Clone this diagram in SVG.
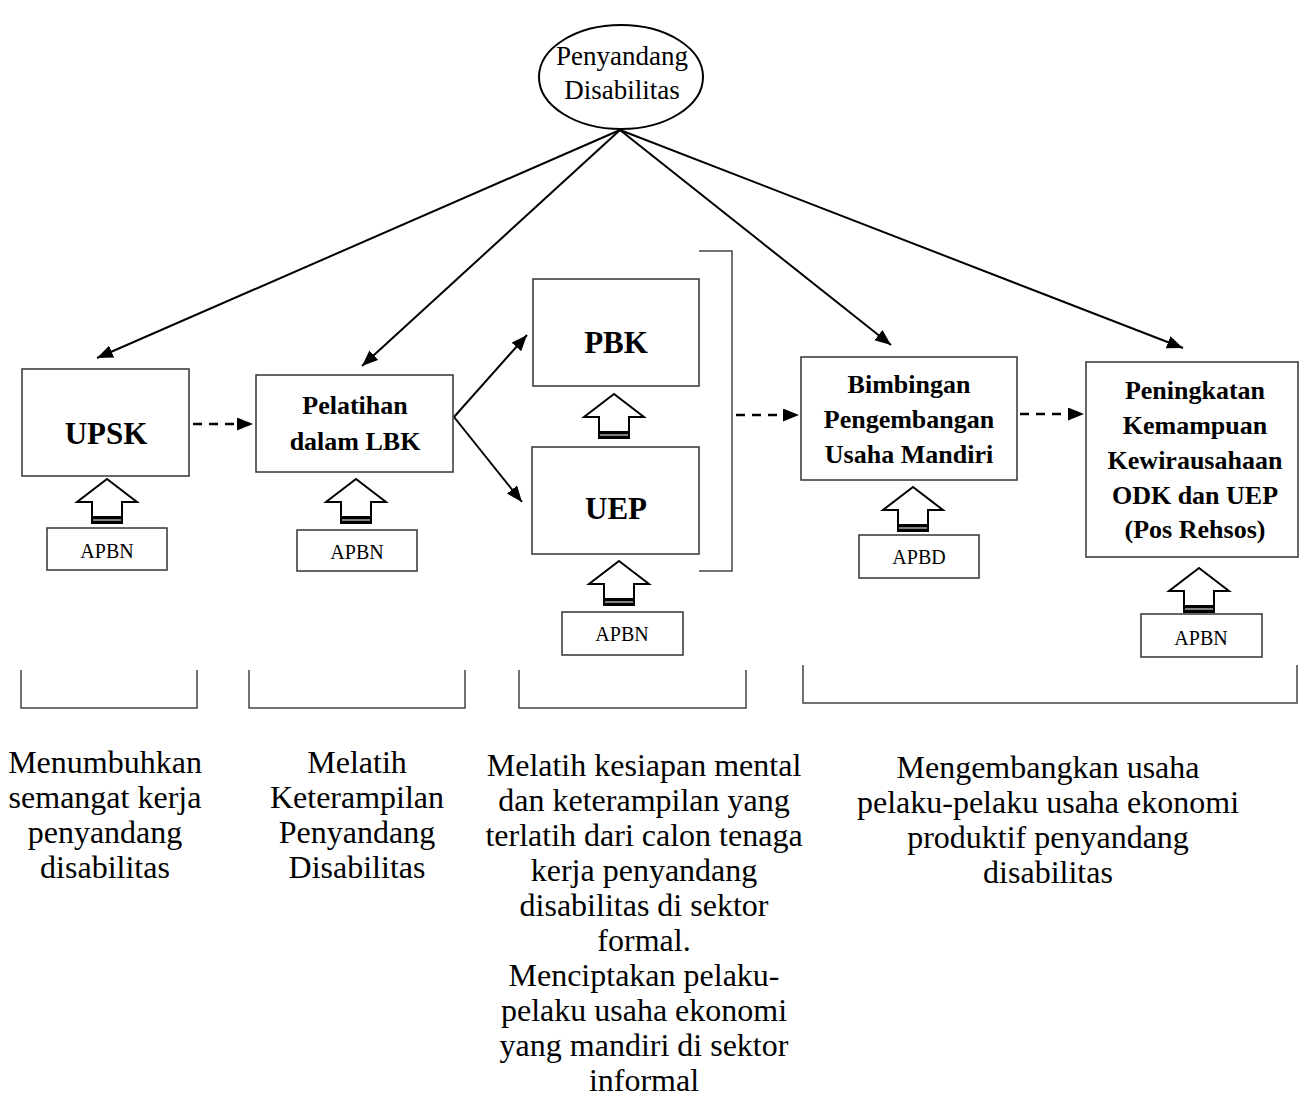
<svg xmlns="http://www.w3.org/2000/svg" width="1309" height="1111" viewBox="0 0 1309 1111">
<defs>
<marker id="ah" markerUnits="userSpaceOnUse" markerWidth="18" markerHeight="14" refX="16" refY="6.5" orient="auto">
<path d="M0,0 L16,6.5 L0,13 z" fill="#000"/>
</marker>
<g id="up">
<polygon points="0,0 30,23 15,23 15,44 -15,44 -15,23 -30,23" fill="#fff" stroke="#000" stroke-width="2" stroke-linejoin="miter"/>
<rect x="-15" y="37" width="30" height="7" fill="#000"/>
<line x1="-14" y1="41" x2="14" y2="41" stroke="#fff" stroke-width="1"/>
</g>
</defs>
<style>
.box{fill:#fff;stroke:#333;stroke-width:1.5}
.ln{fill:none;stroke:#000;stroke-width:2}
.dash{fill:none;stroke:#000;stroke-width:2.5;stroke-dasharray:9,7}
.br{fill:none;stroke:#444;stroke-width:1.5}
.t{font-family:"Liberation Serif","Times New Roman",Times,serif;fill:#000;text-anchor:middle}
.b{font-weight:bold}
.s20{font-size:20px}
.s26{font-size:26px}
.s27{font-size:27px}
.s31{font-size:31px}
.s32{font-size:32px}
</style>
<rect width="1309" height="1111" fill="#fff"/>

<g id="connectors">
<line class="ln" x1="620" y1="130" x2="97" y2="358" marker-end="url(#ah)"/>
<line class="ln" x1="620" y1="130" x2="362" y2="366" marker-end="url(#ah)"/>
<line class="ln" x1="620" y1="130" x2="891" y2="345" marker-end="url(#ah)"/>
<line class="ln" x1="620" y1="130" x2="1183" y2="348" marker-end="url(#ah)"/>
<line class="ln" x1="454" y1="417" x2="527" y2="335" marker-end="url(#ah)"/>
<line class="ln" x1="454" y1="417" x2="522" y2="502" marker-end="url(#ah)"/>
<line class="dash" x1="193" y1="424" x2="253" y2="424" marker-end="url(#ah)"/>
<line class="dash" x1="736" y1="415" x2="799" y2="415" marker-end="url(#ah)"/>
<line class="dash" x1="1020" y1="414" x2="1084" y2="414" marker-end="url(#ah)"/>
<polyline class="br" points="699,251 732,251 732,571 699,571"/>
</g>

<g id="node-penyandang">
<ellipse cx="621" cy="77" rx="82" ry="52" fill="#fff" stroke="#000" stroke-width="2"/>
<text class="t s27" x="622" y="65">Penyandang</text>
<text class="t s27" x="622" y="99">Disabilitas</text>
</g>

<g id="node-upsk">
<rect class="box" x="22" y="369" width="167" height="107"/>
<text class="t b s31" x="106" y="444">UPSK</text>
<use href="#up" x="107" y="479"/>
<rect class="box" x="47" y="528" width="120" height="42"/>
<text class="t s20" x="107" y="558">APBN</text>
</g>

<g id="node-pelatihan">
<rect class="box" x="256" y="375" width="197" height="97"/>
<text class="t b s26" x="355" y="414">Pelatihan</text>
<text class="t b s26" x="355" y="450">dalam LBK</text>
<use href="#up" x="356" y="479"/>
<rect class="box" x="297" y="530" width="120" height="41"/>
<text class="t s20" x="357" y="559">APBN</text>
</g>

<g id="node-pbk">
<rect class="box" x="533" y="279" width="166" height="107"/>
<text class="t b s31" x="616" y="353">PBK</text>
<use href="#up" x="614" y="394"/>
</g>

<g id="node-uep">
<rect class="box" x="532" y="447" width="167" height="107"/>
<text class="t b s31" x="616" y="519">UEP</text>
<use href="#up" x="619" y="561"/>
<rect class="box" x="562" y="612" width="121" height="43"/>
<text class="t s20" x="622" y="641">APBN</text>
</g>

<g id="node-bimbingan">
<rect class="box" x="801" y="357" width="216" height="123"/>
<text class="t b s26" x="909" y="393">Bimbingan</text>
<text class="t b s26" x="909" y="428">Pengembangan</text>
<text class="t b s26" x="909" y="463">Usaha Mandiri</text>
<use href="#up" x="913" y="487"/>
<rect class="box" x="859" y="535" width="120" height="43"/>
<text class="t s20" x="919" y="564">APBD</text>
</g>

<g id="node-peningkatan">
<rect class="box" x="1086" y="362" width="212" height="195"/>
<text class="t b s26" x="1195" y="399">Peningkatan</text>
<text class="t b s26" x="1195" y="434">Kemampuan</text>
<text class="t b s26" x="1195" y="469">Kewirausahaan</text>
<text class="t b s26" x="1195" y="504">ODK dan UEP</text>
<text class="t b s26" x="1195" y="538">(Pos Rehsos)</text>
<use href="#up" x="1199" y="568"/>
<rect class="box" x="1141" y="614" width="121" height="43"/>
<text class="t s20" x="1201" y="645">APBN</text>
</g>

<g id="brackets">
<polyline class="br" points="21,670 21,708 197,708 197,670"/>
<polyline class="br" points="249,670 249,708 465,708 465,670"/>
<polyline class="br" points="519,670 519,708 746,708 746,670"/>
<polyline class="br" points="803,665 803,703 1297,703 1297,665"/>
</g>

<g id="desc1">
<text class="t s32" x="105" y="773">Menumbuhkan</text>
<text class="t s32" x="105" y="808">semangat kerja</text>
<text class="t s32" x="105" y="843">penyandang</text>
<text class="t s32" x="105" y="878">disabilitas</text>
</g>
<g id="desc2">
<text class="t s32" x="357" y="773">Melatih</text>
<text class="t s32" x="357" y="808">Keterampilan</text>
<text class="t s32" x="357" y="843">Penyandang</text>
<text class="t s32" x="357" y="878">Disabilitas</text>
</g>
<g id="desc3">
<text class="t s32" x="644" y="776">Melatih kesiapan mental</text>
<text class="t s32" x="644" y="811">dan keterampilan yang</text>
<text class="t s32" x="644" y="846">terlatih dari calon tenaga</text>
<text class="t s32" x="644" y="881">kerja penyandang</text>
<text class="t s32" x="644" y="916">disabilitas di sektor</text>
<text class="t s32" x="644" y="951">formal.</text>
<text class="t s32" x="644" y="986">Menciptakan pelaku-</text>
<text class="t s32" x="644" y="1021">pelaku usaha ekonomi</text>
<text class="t s32" x="644" y="1056">yang mandiri di sektor</text>
<text class="t s32" x="644" y="1091">informal</text>
</g>
<g id="desc4">
<text class="t s32" x="1048" y="778">Mengembangkan usaha</text>
<text class="t s32" x="1048" y="813">pelaku-pelaku usaha ekonomi</text>
<text class="t s32" x="1048" y="848">produktif penyandang</text>
<text class="t s32" x="1048" y="883">disabilitas</text>
</g>
</svg>
